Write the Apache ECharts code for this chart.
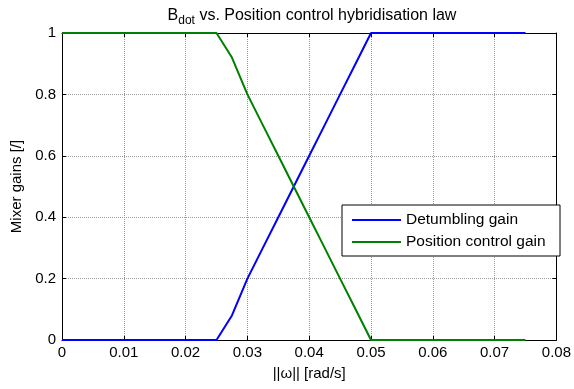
<!DOCTYPE html>
<html><head><meta charset="utf-8">
<script src="https://cdn.jsdelivr.net/npm/echarts@6/dist/echarts.min.js"></script>
<style>html,body{margin:0;padding:0;background:#fff}#c{width:574px;height:389px}</style>
</head><body><div id="c"></div>
<script>
const omega = [0, 0.0025, 0.005, 0.0075, 0.01, 0.0125, 0.015, 0.0175, 0.02, 0.0225, 0.025, 0.0275, 0.03, 0.0325, 0.035, 0.0375, 0.04, 0.0425, 0.045, 0.0475, 0.05, 0.0525, 0.055, 0.0575, 0.06, 0.0625, 0.065, 0.0675, 0.07, 0.0725, 0.075];
const detumbling = [0,0,0,0,0,0,0,0,0,0,0,0.08,0.2,0.3,0.4,0.5,0.6,0.7,0.8,0.9,1,1,1,1,1,1,1,1,1,1,1];
const positionCtrl = [1,1,1,1,1,1,1,1,1,1,1,0.92,0.8,0.7,0.6,0.5,0.4,0.3,0.2,0.1,0,0,0,0,0,0,0,0,0,0,0];
const xTicks = [0, 0.01, 0.02, 0.03, 0.04, 0.05, 0.06, 0.07, 0.08];
const yTicks = [0, 0.2, 0.4, 0.6, 0.8, 1];
const seriesNames = ['Detumbling gain', 'Position control gain'];

const font = 'Liberation Sans, Arial, sans-serif';
const chart = echarts.init(document.getElementById('c'), null, {renderer: 'canvas'});
const pair = (xs, ys) => xs.map((x, i) => [x, ys[i]]);
const fmtX = v => { const r = Math.round(v*100)/100; return r === 0 ? '0' : String(r); };
const fmtY = v => { const r = Math.round(v*10)/10; return String(r); };
chart.setOption({
  animation: false,
  backgroundColor: '#fff',
  title: {
    text: '{b|B}{s|dot}{b| vs. Position control hybridisation law}',
    left: 307, top: 1, textAlign: 'center',
    textStyle: { rich: {
      b: {fontFamily: font, fontSize: 16, fontWeight: 'normal', color: '#000', lineHeight: 19},
      s: {fontFamily: font, fontSize: 12, fontWeight: 'normal', color: '#000', lineHeight: 19, padding: [11,0,0,0]}
    }}
  },
  grid: { left: 62, right: 13, top: 33, bottom: 49, containLabel: false },
  legend: {
    data: seriesNames,
    orient: 'vertical',
    left: 342, top: 205,
    backgroundColor: '#fff',
    borderColor: '#000', borderWidth: 1, borderRadius: 0,
    padding: [5, 5, 4, 10],
    itemGap: 2,
    itemWidth: 49, itemHeight: 2,
    icon: 'rect',
    textStyle: { fontFamily: font, fontSize: 15.5, color: '#000', lineHeight: 20, width: 149, overflow: 'none' }
  },
  xAxis: [{
    type: 'value', min: 0, max: 0.08, interval: 0.01,
    name: '||ω|| [rad/s]', nameLocation: 'middle', nameGap: 26,
    nameTextStyle: { fontFamily: font, fontSize: 15, color: '#000' },
    axisLine: { onZero: false, lineStyle: { color: '#000', width: 1 } },
    axisTick: { inside: true, length: 4, lineStyle: { color: '#000' } },
    axisLabel: { fontFamily: font, fontSize: 15, color: '#000', margin: 5, formatter: fmtX, showMaxLabel: true },
    splitLine: { show: true, lineStyle: { color: '#999', type: 'dotted', width: 1 } }
  }, {
    type: 'value', min: 0, max: 0.08, interval: 0.01, position: 'top',
    axisLine: { onZero: false, lineStyle: { color: '#000', width: 1 } },
    axisTick: { inside: true, length: 4, lineStyle: { color: '#000' } },
    axisLabel: { show: false }, splitLine: { show: false }
  }],
  yAxis: [{
    type: 'value', min: 0, max: 1, interval: 0.2,
    name: 'Mixer gains [/]', nameLocation: 'middle', nameGap: 35, nameRotate: 90,
    nameTextStyle: { fontFamily: font, fontSize: 15, color: '#000' },
    axisLine: { show: true, onZero: false, lineStyle: { color: '#000', width: 1 } },
    axisTick: { show: true, inside: true, length: 4, lineStyle: { color: '#000' } },
    axisLabel: { fontFamily: font, fontSize: 15, color: '#000', margin: 6, formatter: fmtY },
    splitLine: { show: true, lineStyle: { color: '#999', type: 'dotted', width: 1 } }
  }, {
    type: 'value', min: 0, max: 1, interval: 0.2, position: 'right',
    axisLine: { show: true, onZero: false, lineStyle: { color: '#000', width: 1 } },
    axisTick: { show: true, inside: true, length: 4, lineStyle: { color: '#000' } },
    axisLabel: { show: false }, splitLine: { show: false }
  }],
  series: [{
    name: seriesNames[0], type: 'line', data: pair(omega, detumbling),
    showSymbol: false, symbol: 'none', color: '#0000ff',
    lineStyle: { color: '#0000ff', width: 2 }, z: 3
  }, {
    name: seriesNames[1], type: 'line', data: pair(omega, positionCtrl),
    showSymbol: false, symbol: 'none', color: '#008000',
    lineStyle: { color: '#008000', width: 2 }, z: 4
  }]
});
</script></body></html>
